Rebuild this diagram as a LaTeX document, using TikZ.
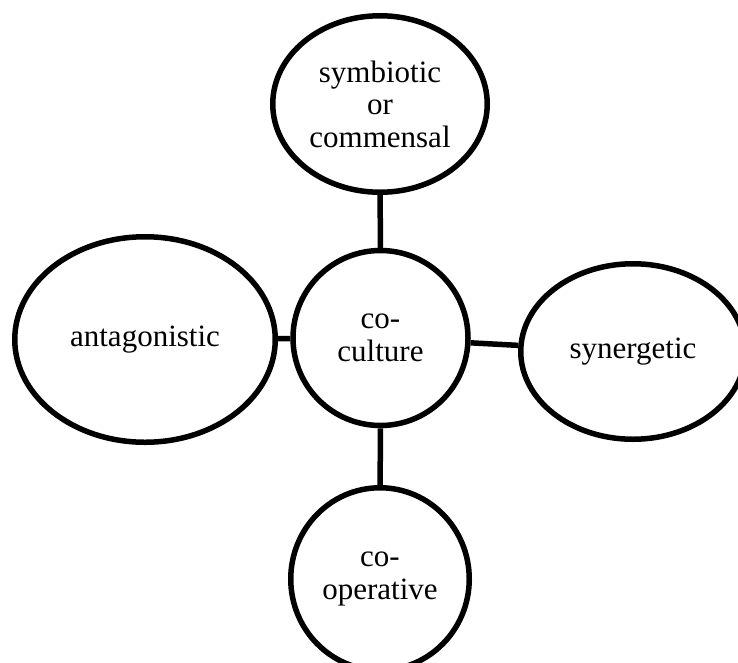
\documentclass[tikz,border=0pt]{standalone}
\usepackage{fontspec}
\setmainfont{Liberation Serif}
\usetikzlibrary{shapes.geometric}
\tikzset{bb/.style={draw,ellipse,line width=5.5pt,inner sep=0pt,align=center,font=\fontsize{31}{32.5}\selectfont}}
\tikzset{ln/.style={line width=5.5pt}}

\begin{document}
\begin{tikzpicture}[x=1pt,y=-1pt]
            \useasboundingbox (0,0) rectangle (738,662);
            \node[bb,minimum width=175pt,minimum height=175pt] (C) at (380.5,338) {co-\\culture};
            \node[bb,minimum width=214.5pt,minimum height=176.5pt] (S) at (380,104) {symbiotic\\or\\commensal}
              edge [ln] (C);
            \node[bb,minimum width=260.5pt,minimum height=205.5pt] (A) at (145,339.5) {antagonistic}
              edge [ln] (C);
            \node[bb,minimum width=224.5pt,minimum height=175.5pt] (G) at (633,351.5) {synergetic}
              edge [ln] (C);
            \node[bb,minimum width=178.5pt,minimum height=182.5pt] (O) at (380,579) {co-\\operative}
              edge [ln] (C);
          \end{tikzpicture}
\end{document}
